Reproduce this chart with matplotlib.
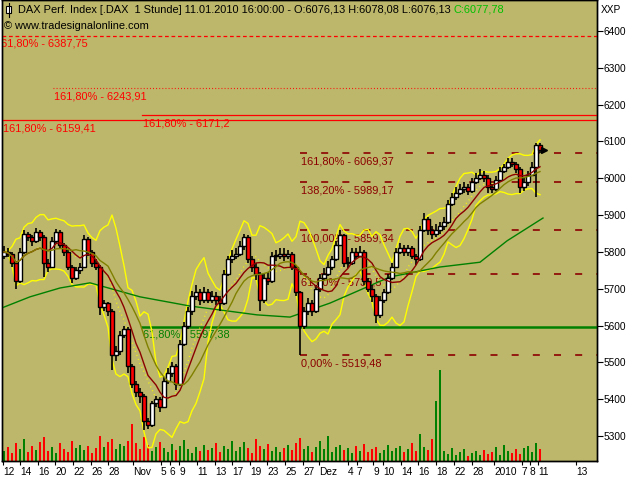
import numpy as np
import pandas as pd
import matplotlib
matplotlib.use("Agg")
import matplotlib.pyplot as plt
from matplotlib.patches import Rectangle
from matplotlib.lines import Line2D

# hourly DAX closes (condensed)
first_open = 5790
closes = [5800, 5795, 5770, 5720, 5800, 5850, 5840, 5830, 5855, 5840,
          5770, 5760, 5830, 5855, 5820, 5800, 5760, 5730, 5750, 5760,
          5835, 5800, 5770, 5760, 5650, 5660, 5640, 5520, 5530, 5575,
          5590, 5490, 5440, 5420, 5410, 5340, 5330, 5390, 5400, 5380,
          5450, 5470, 5490, 5440, 5550, 5600, 5640, 5680, 5690, 5670,
          5690, 5670, 5680, 5670, 5660, 5740, 5780, 5790, 5795, 5815,
          5840, 5780, 5760, 5740, 5670, 5730, 5720, 5790, 5790, 5795,
          5790, 5795, 5760, 5690, 5600, 5640, 5660, 5640, 5700, 5730,
          5740, 5760, 5780, 5820, 5845, 5770, 5770, 5800, 5790, 5800,
          5720, 5700, 5680, 5630, 5670, 5690, 5730, 5760, 5800, 5810,
          5800, 5810, 5790, 5780, 5860, 5890, 5860, 5850, 5860, 5870,
          5880, 5930, 5950, 5960, 5970, 5975, 5965, 5990, 6000, 6010,
          6000, 5975, 5970, 5995, 6020, 6030, 6045, 6040, 6025, 5975,
          5990, 6010, 6030, 6090, 6077.78]
highs = [5815, 5810, 5800, 5775, 5810, 5860, 5855, 5845, 5865, 5860,
         5845, 5780, 5840, 5862, 5860, 5825, 5805, 5765, 5760, 5770,
         5845, 5840, 5805, 5780, 5765, 5670, 5665, 5645, 5545, 5585,
         5600, 5595, 5495, 5450, 5430, 5415, 5350, 5395, 5410, 5405,
         5460, 5485, 5500, 5495, 5560, 5610, 5650, 5695, 5710, 5700,
         5705, 5700, 5695, 5690, 5680, 5750, 5790, 5805, 5810, 5830,
         5848, 5845, 5790, 5770, 5745, 5740, 5745, 5800, 5805, 5810,
         5810, 5805, 5800, 5765, 5695, 5650, 5675, 5670, 5710, 5740,
         5755, 5775, 5790, 5830, 5859.34, 5850, 5785, 5810, 5810, 5815,
         5805, 5730, 5710, 5685, 5680, 5700, 5740, 5770, 5810, 5825,
         5820, 5820, 5815, 5795, 5870, 5905, 5895, 5870, 5875, 5880,
         5895, 5940, 5960, 5975, 5985, 5990, 5985, 6000, 6015, 6025,
         6020, 6010, 5985, 6005, 6030, 6040, 6055, 6055, 6045, 6030,
         6000, 6020, 6045, 6095, 6095]
lows = [5780, 5785, 5760, 5700, 5715, 5795, 5830, 5815, 5825, 5830,
        5732, 5745, 5755, 5825, 5810, 5790, 5750, 5715, 5725, 5740,
        5755, 5790, 5760, 5750, 5630, 5640, 5625, 5480, 5505, 5520,
        5565, 5470, 5430, 5405, 5390, 5316, 5318, 5325, 5380, 5365,
        5375, 5440, 5460, 5425, 5435, 5545, 5590, 5630, 5670, 5655,
        5660, 5660, 5660, 5655, 5640, 5655, 5735, 5770, 5780, 5790,
        5805, 5770, 5745, 5725, 5640, 5660, 5710, 5715, 5775, 5780,
        5775, 5780, 5750, 5680, 5519.48, 5590, 5630, 5625, 5635, 5690,
        5720, 5735, 5750, 5775, 5815, 5760, 5755, 5765, 5780, 5785,
        5710, 5690, 5665, 5607, 5620, 5660, 5685, 5725, 5755, 5795,
        5790, 5790, 5780, 5765, 5775, 5855, 5845, 5835, 5840, 5850,
        5860, 5875, 5925, 5940, 5955, 5960, 5955, 5960, 5985, 5995,
        5990, 5960, 5960, 5965, 5990, 6015, 6025, 6030, 6015, 5960,
        5965, 5980, 6005, 5950, 6070]
volumes = [10, 14, 8, 18, 12, 22, 9, 15, 11, 19,
           24, 10, 14, 8, 18, 12, 9, 20, 13, 16,
           11, 15, 8, 13, 25, 14, 19, 22, 12, 17,
           15, 20, 37, 18, 12, 24, 16, 10, 14, 19,
           13, 9, 17, 11, 15, 21, 12, 8, 14, 10,
           16, 11, 13, 18, 9, 15, 12, 20, 10, 14,
           19, 13, 8, 22, 15, 12, 17, 10, 14, 9,
           13, 16, 11, 18, 23, 12, 15, 9, 14, 20,
           12, 25, 9, 14, 16, 11, 13, 8, 15, 10,
           17, 9, 12, 14, 8, 11, 16, 10, 13, 15,
           9, 12, 18, 10, 27, 14, 11, 22, 60, 91,
           10, 7, 13, 6, 9, 12, 5, 8, 10, 6,
           11, 7, 9, 14, 6, 16, 10, 8, 12, 7,
           13, 15, 9, 18, 12]

# long moving average (needs history before the window, so read directly)
ma_long_bar = [-0.5, 6.5, 14, 21.5, 34, 46.5, 63.25, 71.5, 81.5, 96.5, 109, 119, 125.75, 134.75]
ma_long_val = [5648, 5678, 5702, 5716, 5678, 5653, 5629, 5623, 5661, 5732, 5759, 5772, 5830, 5892]

# fibonacci lines
fib_levels = [6387.75, 6243.91, 6171.2, 6159.41]
fib_texts = ["161,80% - 6387,75", "161,80% - 6243,91", "161,80% - 6171,2", "161,80% - 6159,41"]
fib_start = [-0.5, 12.25, 34.5, -0.5]
fib_style = ["dashed", "dotted", "solid", "solid"]

retr_levels = [6069.37, 5989.17, 5859.34, 5739.5, 5519.48]
retr_texts = ["161,80% - 6069,37", "138,20% - 5989,17", "100,00% - 5859,34", "61,80% - 5739,5", "0,00% - 5519,48"]
retr_start = 74

green_level = 5597.38
green_text = "61,80% - 5597,38"
green_start = 34.5

tick_bars = [-0.25, 4, 8.5, 12.75, 17.25, 21.75, 26, 32.25, 39.25, 41.5, 43.75, 48.25, 52.75, 57, 61.5,
             65.75, 70.25, 74.75, 78.75, 86, 88.25, 92.25, 94.75, 99.25, 103.5, 108, 112.5, 117,
             122.5, 129.5, 131.5, 133.5, 143]
tick_labels = ["12", "14", "16", "20", "22", "26", "28", "Nov", "5", "6", "9", "11", "13", "17", "19",
               "23", "25", "27", "Dez", "4", "7", "9", "10", "14", "16", "18", "22", "28",
               "2010", "7", "8", "11", "13"]

plt.rcParams['font.family'] = ['Liberation Sans', 'DejaVu Sans']
fs = 7.3
fs_txt = 7.9
bg = '#BDB76B'
darkred = '#8B0000'

fig = plt.figure(figsize=(6.4, 4.8), dpi=100)
fig.patch.set_facecolor('white')
ax = fig.add_axes([2/640, 19/480, 595/640, 461/480])
axv = ax.twinx()
ax.set_zorder(axv.get_zorder() + 1)
ax.patch.set_visible(False)
axv.patch.set_visible(True)
axv.patch.set_facecolor(bg)

n = len(closes)
x = np.arange(n)
opens = [first_open] + closes[:-1]

# volume
vcol = ['#008000' if c >= o else '#FF0000' for o, c in zip(opens, closes)]
axv.bar(x, volumes, width=0.4, color=vcol, linewidth=0)
axv.set_ylim(0, 461)
axv.set_yticks([])

# indicators
s = pd.Series(closes)
mid = s.rolling(8, min_periods=1).mean()
sd = s.rolling(8, min_periods=2).std(ddof=0).fillna(0)
ma_red = s.rolling(10, min_periods=1).mean()
ma_olive = s.rolling(15, min_periods=1).mean()

# horizontal levels
for lev, txt, st, ls in zip(fib_levels, fib_texts, fib_start, fib_style):
    if ls == "dashed":
        ax.plot([st, 200], [lev, lev], color='red', lw=0.9, dashes=(3, 2.2), zorder=1)
        dx = -5.0
    elif ls == "dotted":
        ax.plot([st, 200], [lev, lev], color='red', lw=0.8, dashes=(0.8, 2.0), zorder=1)
        dx = 0.7
    else:
        ax.plot([st, 200], [lev, lev], color='red', lw=0.9, zorder=1)
        dx = 0.7
    ax.annotate(txt, xy=(st, lev), xytext=(dx, -2.5), textcoords='offset points',
                ha='left', va='top', color='red', fontsize=fs_txt, clip_on=True, zorder=1)

for lev, txt in zip(retr_levels, retr_texts):
    ax.plot([retr_start, 200], [lev, lev], color=darkred, lw=1.2, dashes=(4.2, 8.5), zorder=1)
    ax.annotate(txt, xy=(retr_start, lev), xytext=(0.7, -2.5), textcoords='offset points',
                ha='left', va='top', color=darkred, fontsize=fs_txt, zorder=1)

ax.plot([green_start, 200], [green_level, green_level], color='#008000', lw=1.8, zorder=1)
ax.annotate(green_text, xy=(green_start, green_level), xytext=(0.7, -2.5), textcoords='offset points',
            ha='left', va='top', color='#008000', fontsize=fs_txt, zorder=1)

# bands and averages
ax.plot(x, mid + 2 * sd, color='#FFFF00', lw=1, zorder=2)
ax.plot(x, mid - 2 * sd, color='#FFFF00', lw=1, zorder=2)
ax.plot(x, mid, color='#FFFF00', lw=1, dashes=(0.6, 2.5), zorder=2)
ax.plot(ma_long_bar, ma_long_val, color='#008000', lw=1, zorder=2)

# candles
bottoms = [min(o, c) for o, c in zip(opens, closes)]
heights = [max(abs(c - o), 2) for o, c in zip(opens, closes)]
colors = ['white' if c >= o else '#FF0000' for o, c in zip(opens, closes)]
ax.vlines(x, lows, highs, color='black', lw=1.2, zorder=3)
ax.bar(x, heights, bottom=bottoms, width=0.85, color=colors, edgecolor='black', linewidth=1.0, zorder=4)

ax.plot(x, ma_red, color=darkred, lw=1, zorder=5)
ax.plot(x, ma_olive, color='#808000', lw=1, zorder=5)

ax.plot(n - 1 + 1.1, closes[-1], marker='>', color='black', ms=5, zorder=6)

ax.set_xlim(-0.5, 148.25)
ax.set_ylim(5232.1, 6484.2)

ax.yaxis.tick_right()
ax.set_yticks(range(5300, 6401, 100))
ax.set_yticklabels([str(v) for v in range(5300, 6401, 100)])
ax.tick_params(axis='y', direction='out', length=4, width=0.8, pad=1, labelsize=fs)
ax.set_xticks(tick_bars)
ax.set_xticklabels(tick_labels)
ax.tick_params(axis='x', direction='out', length=3, width=0.8, pad=1, labelsize=fs)
for lbl in ax.get_xticklabels():
    lbl.set_horizontalalignment('left')

for a in (ax, axv):
    for sp in a.spines.values():
        sp.set_color('black')
        sp.set_linewidth(1)

# header
t1 = fig.text(18/640, 1 - 10/480,
              "DAX Perf. Index [.DAX  1 Stunde] 11.01.2010 16:00:00 - O:6076,13 H:6078,08 L:6076,13 ",
              fontsize=fs_txt, va='center', ha='left', color='black')
fig.text(4/640, 1 - 26/480, "\u00a9 www.tradesignalonline.com", fontsize=fs_txt, va='center', ha='left')
fig.text(601/640, 1 - 10/480, "XXP", fontsize=fs, va='center', ha='left')
ax.annotate("C:6077,78", xy=(1, 0), xycoords=t1, ha='left', va='bottom', fontsize=fs_txt, color='#00C000')
fig.add_artist(Line2D([8.5/640, 8.5/640], [1 - 3/480, 1 - 17/480], color='black', lw=0.8, transform=fig.transFigure))
fig.add_artist(Rectangle((6/640, 1 - 13/480), 5/640, 7/480, transform=fig.transFigure,
                         facecolor='white', edgecolor='black', lw=0.8))

fig.savefig("out.png", dpi=100)
